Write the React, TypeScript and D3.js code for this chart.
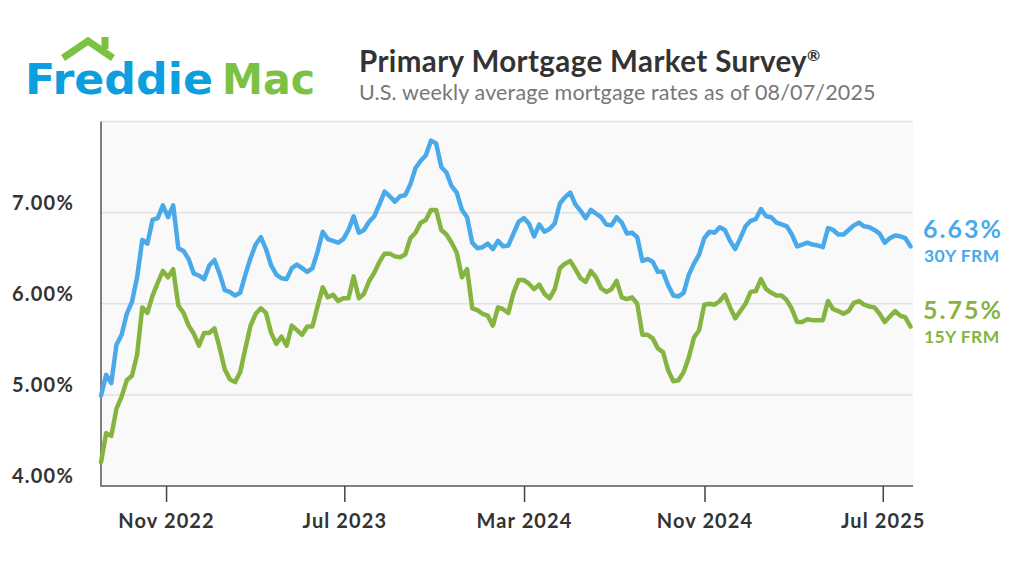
import React, { useEffect, useRef } from "react";
import * as d3 from "d3";

// Freddie Mac PMMS weekly averages, 08/04/2022 .. 08/07/2025
const firstWeek = new Date(2022, 7, 4);

const frm30 = [
  4.99, 5.22, 5.13, 5.55, 5.66, 5.89, 6.02, 6.29, 6.7, 6.66, 6.92, 6.94, 7.08, 6.95, 7.08, 6.61, 6.58, 6.49, 6.33, 6.31, 6.27, 6.42,
  6.48, 6.33, 6.15, 6.13, 6.09, 6.12, 6.32, 6.5, 6.65, 6.73, 6.6, 6.42, 6.32, 6.28, 6.27, 6.39, 6.43, 6.39, 6.35, 6.39, 6.57,
  6.79, 6.71, 6.69, 6.67, 6.71, 6.81, 6.96, 6.78, 6.81, 6.9, 6.96, 7.09, 7.23, 7.18, 7.12, 7.18, 7.19, 7.31, 7.49, 7.57, 7.63,
  7.79, 7.76, 7.5, 7.44, 7.29, 7.22, 7.03, 6.95, 6.67, 6.61,
  6.62, 6.66, 6.6, 6.69, 6.63, 6.64, 6.77, 6.9, 6.94, 6.88, 6.74, 6.87, 6.79, 6.82, 6.88, 7.1, 7.17, 7.22, 7.09, 7.02, 6.94,
  7.03, 6.99, 6.95, 6.87, 6.86, 6.95, 6.89, 6.77, 6.78, 6.73, 6.47, 6.49, 6.46, 6.35, 6.35, 6.2, 6.09, 6.08, 6.12, 6.32, 6.44,
  6.54, 6.72, 6.79, 6.78, 6.84, 6.81, 6.69, 6.6, 6.72, 6.85,
  6.91, 6.93, 7.04, 6.96, 6.95, 6.89, 6.87, 6.85, 6.76, 6.63, 6.65, 6.67, 6.65, 6.64, 6.62, 6.83, 6.81, 6.76, 6.76, 6.81, 6.86,
  6.89, 6.85, 6.84, 6.81, 6.77, 6.67, 6.72, 6.75, 6.74, 6.72, 6.63,
];

const frm15 = [
  4.26, 4.58, 4.55, 4.85, 4.98, 5.16, 5.21, 5.44, 5.96, 5.9, 6.09, 6.23, 6.36, 6.29, 6.38, 5.98, 5.9, 5.76, 5.67, 5.54, 5.68, 5.68,
  5.73, 5.52, 5.28, 5.17, 5.14, 5.25, 5.51, 5.76, 5.89, 5.95, 5.9, 5.68, 5.56, 5.64, 5.54, 5.76, 5.71, 5.66, 5.75, 5.75, 5.97,
  6.18, 6.07, 6.1, 6.03, 6.06, 6.06, 6.3, 6.06, 6.11, 6.25, 6.34, 6.46, 6.55, 6.55, 6.52, 6.51, 6.54, 6.72, 6.78, 6.89, 6.92,
  7.03, 7.03, 6.81, 6.76, 6.67, 6.56, 6.29, 6.38, 5.95, 5.93,
  5.89, 5.87, 5.76, 5.96, 5.94, 5.9, 6.12, 6.26, 6.26, 6.22, 6.16, 6.21, 6.11, 6.06, 6.16, 6.39, 6.44, 6.47, 6.38, 6.28, 6.24,
  6.36, 6.29, 6.17, 6.13, 6.16, 6.25, 6.07, 6.05, 6.07, 6.0, 5.66, 5.66, 5.62, 5.51, 5.47, 5.27, 5.15, 5.16, 5.25, 5.41, 5.63,
  5.71, 5.99, 6.0, 5.99, 6.03, 6.1, 5.96, 5.84, 5.92, 6.0,
  6.13, 6.14, 6.27, 6.16, 6.12, 6.09, 6.09, 6.04, 5.94, 5.8, 5.8, 5.83, 5.82, 5.82, 5.82, 6.03, 5.94, 5.92, 5.89, 5.92, 6.01,
  6.03, 5.99, 5.97, 5.96, 5.89, 5.8, 5.86, 5.92, 5.87, 5.85, 5.75,
];

const yTicks = [4, 5, 6, 7, 8];
const xTicks = [
  new Date(2022, 10, 1),
  new Date(2023, 6, 1),
  new Date(2024, 2, 1),
  new Date(2024, 10, 1),
  new Date(2025, 6, 1),
];

const BLUE = "#4aa9e9";
const GREEN = "#86b441";
const FONT = "Lato, 'Open Sans', sans-serif";
const LOGO_FONT = "'DejaVu Sans', sans-serif";

const drawChart = (svgEl: SVGSVGElement) => {
  const svg = d3.select(svgEl);
  svg.selectAll("*").remove();

  const left = 101;
  const right = 913;
  const top = 121.5;
  const bottom = 486;

  const weeks = frm30.map((_, i) => d3.timeWeek.offset(firstWeek, i));

  const x = d3
    .scaleTime()
    .domain([weeks[0], weeks[weeks.length - 1]])
    .range([left, 910.5]);
  const y = d3.scaleLinear().domain([4, 8]).range([bottom, top]);

  // logo
  const logo = svg.append("g");
  logo
    .append("polyline")
    .attr("points", "63,58 88,41 113,58")
    .attr("fill", "none")
    .attr("stroke", "#7cc242")
    .attr("stroke-width", 7);
  logo.append("rect").attr("x", 101.5).attr("y", 37).attr("width", 7).attr("height", 12).attr("fill", "#7cc242");
  logo
    .append("text")
    .attr("x", 25)
    .attr("y", 93.5)
    .attr("font-family", LOGO_FONT)
    .attr("font-weight", 700)
    .attr("font-size", 42)
    .attr("textLength", 188)
    .attr("lengthAdjust", "spacingAndGlyphs")
    .attr("fill", "#0c9fe0")
    .text("Freddie");
  logo
    .append("text")
    .attr("x", 222)
    .attr("y", 93.5)
    .attr("font-family", LOGO_FONT)
    .attr("font-weight", 700)
    .attr("font-size", 42)
    .attr("textLength", 93)
    .attr("lengthAdjust", "spacingAndGlyphs")
    .attr("fill", "#7cc242")
    .text("Mac");

  // titles
  const title = svg
    .append("text")
    .attr("x", 359)
    .attr("y", 71.5)
    .attr("font-family", FONT)
    .attr("font-weight", 700)
    .attr("font-size", 29.5)
    .attr("letter-spacing", 0.4)
    .attr("fill", "#333");
  title.append("tspan").text("Primary Mortgage Market Survey");
  title.append("tspan").attr("font-size", 16).attr("dy", -11).text("®");

  svg
    .append("text")
    .attr("x", 359)
    .attr("y", 99.5)
    .attr("font-family", FONT)
    .attr("font-size", 21.5)
    .attr("letter-spacing", 0.15)
    .attr("fill", "#777")
    .text("U.S. weekly average mortgage rates as of 08/07/2025");

  // plot background + grid
  svg
    .append("rect")
    .attr("x", left)
    .attr("y", top)
    .attr("width", right - left)
    .attr("height", bottom - top)
    .attr("fill", "#f9f9f9");

  svg
    .append("g")
    .selectAll("line")
    .data(yTicks.slice(1))
    .enter()
    .append("line")
    .attr("x1", left)
    .attr("x2", right)
    .attr("y1", (d) => y(d))
    .attr("y2", (d) => y(d))
    .attr("stroke", "#e2e2e2")
    .attr("stroke-width", 1.5);

  svg
    .append("g")
    .selectAll("text")
    .data(yTicks.filter((d) => d < 8))
    .enter()
    .append("text")
    .attr("x", 74)
    .attr("y", (d) => y(d) - 3)
    .attr("text-anchor", "end")
    .attr("font-family", FONT)
    .attr("font-weight", 700)
    .attr("font-size", 20)
    .attr("letter-spacing", 1.2)
    .attr("fill", "#333")
    .text((d) => d3.format(".2f")(d) + "%");

  // axes
  svg
    .append("path")
    .attr("d", `M${left},${top}V${bottom}H${right}`)
    .attr("fill", "none")
    .attr("stroke", "#555")
    .attr("stroke-width", 1.5);

  const xt = svg.append("g").selectAll("g").data(xTicks).enter().append("g");
  xt.append("line")
    .attr("x1", (d) => x(d))
    .attr("x2", (d) => x(d))
    .attr("y1", bottom)
    .attr("y2", 502)
    .attr("stroke", "#444")
    .attr("stroke-width", 1.5);
  xt.append("text")
    .attr("x", (d) => x(d))
    .attr("y", 528)
    .attr("text-anchor", "middle")
    .attr("font-family", FONT)
    .attr("font-weight", 700)
    .attr("font-size", 20)
    .attr("letter-spacing", 1.1)
    .attr("fill", "#333")
    .text((d) => d3.timeFormat("%b %Y")(d));

  // series
  const series = [
    { values: frm30, color: BLUE, label: "30Y FRM" },
    { values: frm15, color: GREEN, label: "15Y FRM" },
  ];

  const line = d3
    .line<number>()
    .x((_, i) => x(weeks[i]))
    .y((v) => y(v));

  series.forEach((s) => {
    svg
      .append("path")
      .attr("d", line(s.values))
      .attr("fill", "none")
      .attr("stroke", s.color)
      .attr("stroke-width", 4.5)
      .attr("stroke-linejoin", "round")
      .attr("stroke-linecap", "round");

    const last = s.values[s.values.length - 1];
    const ly = y(last);
    svg
      .append("text")
      .attr("x", 923)
      .attr("y", ly - 8)
      .attr("font-family", FONT)
      .attr("font-weight", 700)
      .attr("font-size", 25)
      .attr("letter-spacing", 2)
      .attr("fill", s.color)
      .text(d3.format(".2f")(last) + "%");
    svg
      .append("text")
      .attr("x", 924)
      .attr("y", ly + 16)
      .attr("font-family", FONT)
      .attr("font-weight", 700)
      .attr("font-size", 17.5)
      .attr("letter-spacing", 0.4)
      .attr("fill", s.color)
      .text(s.label);
  });
};

const App = () => {
  const ref = useRef<SVGSVGElement>(null);

  useEffect(() => {
    document.body.style.margin = "0";
    if (ref.current) drawChart(ref.current);
  }, []);

  return (
    <svg
      ref={ref}
      width={1024}
      height={576}
      style={{ position: "absolute", left: 0, top: 0, background: "#fff" }}
    ></svg>
  );
};

export default App;
